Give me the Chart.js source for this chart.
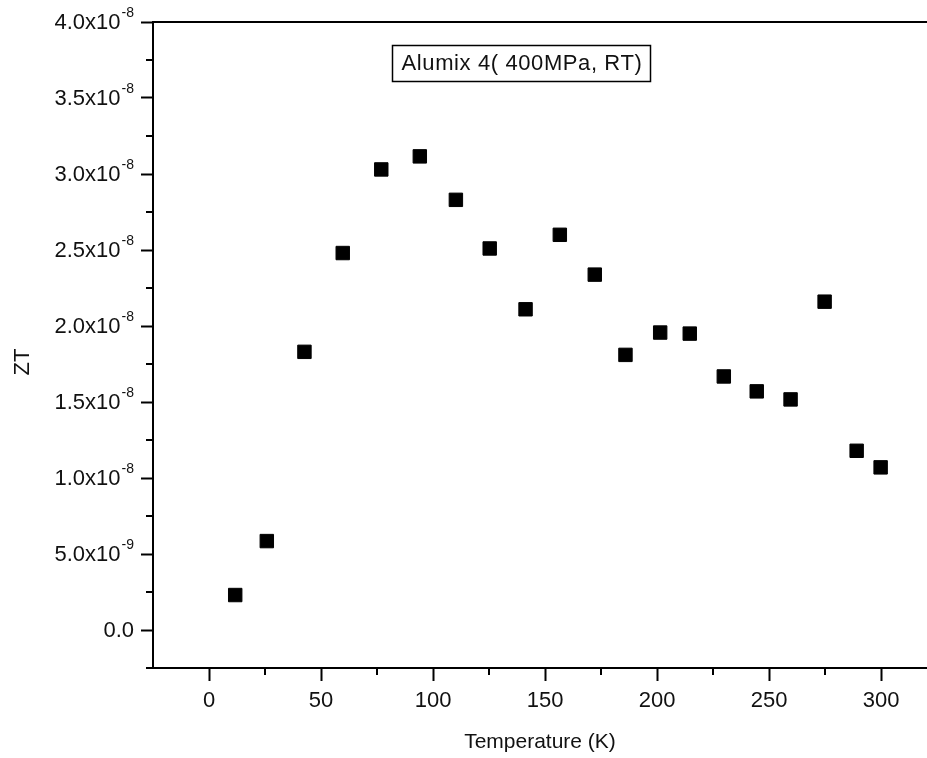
<!DOCTYPE html>
<html>
<head>
<meta charset="utf-8">
<script src="https://cdn.jsdelivr.net/npm/chart.js@4"></script>
<style>
  html, body { margin: 0; padding: 0; background: #fff; overflow: hidden; }
  #wrap { width: 927px; height: 758px; }
</style>
</head>
<body>
<div id="wrap"><canvas id="zt"></canvas></div>
<script>
// Temperature (K) and ZT
const temperature = [11.7, 25.8, 42.6, 59.7, 76.9, 94.1, 110.2, 125.3, 141.3, 156.6,
                     172.2, 185.9, 201.4, 214.6, 229.8, 244.5, 259.6, 274.8, 289.1, 299.8];
const ztValues = [0.23e-8, 0.585e-8, 1.83e-8, 2.48e-8, 3.03e-8, 3.116e-8, 2.83e-8, 2.51e-8, 2.11e-8, 2.60e-8,
                  2.338e-8, 1.81e-8, 1.957e-8, 1.95e-8, 1.668e-8, 1.57e-8, 1.517e-8, 2.16e-8, 1.179e-8, 1.07e-8];

// axis ticks
const xMajorTicks = [0, 50, 100, 150, 200, 250, 300];
const xMinorTicks = [25, 75, 125, 175, 225, 275];
const yMajorTicks = [0, 0.5e-8, 1.0e-8, 1.5e-8, 2.0e-8, 2.5e-8, 3.0e-8, 3.5e-8, 4.0e-8];
const yMinorTicks = [-0.25e-8, 0.25e-8, 0.75e-8, 1.25e-8, 1.75e-8, 2.25e-8, 2.75e-8, 3.25e-8, 3.75e-8];
// y labels as [mantissa, exponent] (exponent drawn as superscript)
const yTickLabels = [["0.0", ""], ["5.0x10", "-9"], ["1.0x10", "-8"], ["1.5x10", "-8"], ["2.0x10", "-8"],
                     ["2.5x10", "-8"], ["3.0x10", "-8"], ["3.5x10", "-8"], ["4.0x10", "-8"]];

const legendText = "Alumix 4( 400MPa, RT)";
const FONT = "Liberation Sans, Arial, sans-serif";
const INK = "#111";

// Extra bits Origin draws that Chart.js doesn't: minor ticks, superscript
// labels, the top frame line, rotated ZT title and the boxed legend.
const originDecor = {
  id: "originDecor",
  afterDraw(chart) {
    const { ctx, chartArea, scales } = chart;
    const x = scales.x, y = scales.y;
    ctx.save();
    ctx.strokeStyle = "#000";
    ctx.lineWidth = 2;

    // top frame
    ctx.beginPath();
    ctx.moveTo(chartArea.left - 1, chartArea.top);
    ctx.lineTo(chartArea.right, chartArea.top);
    ctx.stroke();

    // minor ticks
    ctx.beginPath();
    xMinorTicks.forEach((v) => {
      const px = Math.round(x.getPixelForValue(v));
      ctx.moveTo(px, chartArea.bottom);
      ctx.lineTo(px, chartArea.bottom + 7);
    });
    yMinorTicks.forEach((v) => {
      const py = Math.round(y.getPixelForValue(v));
      ctx.moveTo(chartArea.left, py);
      ctx.lineTo(chartArea.left - 7, py);
    });
    ctx.stroke();

    // y labels with superscript exponent
    ctx.fillStyle = INK;
    ctx.textBaseline = "middle";
    const rightEdge = 134;
    yMajorTicks.forEach((v, i) => {
      const py = y.getPixelForValue(v);
      const [mant, expo] = yTickLabels[i];
      ctx.textAlign = "right";
      let xr = rightEdge;
      if (expo) {
        ctx.font = "14px " + FONT;
        ctx.fillText(expo, xr, py - 9);
        xr -= ctx.measureText(expo).width + 1;
      }
      ctx.font = "22px " + FONT;
      ctx.fillText(mant, xr, py + 1);
    });

    // ZT title
    ctx.save();
    ctx.translate(23, 362);
    ctx.rotate(-Math.PI / 2);
    ctx.textAlign = "center";
    ctx.font = "22px " + FONT;
    ctx.fillText("ZT", 0, 0);
    ctx.restore();

    // boxed legend text
    ctx.lineWidth = 1.5;
    ctx.strokeRect(392.5, 45.5, 258, 36);
    ctx.textAlign = "center";
    ctx.font = "22px " + FONT;
    ctx.letterSpacing = "0.6px";
    ctx.fillText(legendText, 522, 64);
    ctx.restore();
  },
};

new Chart(document.getElementById("zt"), {
  type: "scatter",
  data: {
    datasets: [{
      label: legendText,
      data: temperature.map((t, i) => ({ x: t, y: ztValues[i] })),
      pointStyle: "rect",
      pointRadius: 9.5,
      pointHoverRadius: 9.5,
      backgroundColor: "#000",
      borderColor: "#000",
      borderWidth: 1,
    }],
  },
  options: {
    responsive: true,
    maintainAspectRatio: false,
    animation: false,
    events: [],
    layout: { autoPadding: false, padding: { left: 0, top: 22, right: 0, bottom: 0 } },
    plugins: {
      legend: { display: false },
      tooltip: { enabled: false },
    },
    scales: {
      x: {
        type: "linear",
        min: -25,
        max: 320.5,
        afterBuildTicks: (scale) => { scale.ticks = xMajorTicks.map((v) => ({ value: v })); },
        afterFit: (scale) => {
          scale.height = 90;
          // let the plot run off the right edge like the cropped original
          scale.paddingLeft = 0;
          scale.paddingRight = 0;
        },
        grid: { drawOnChartArea: false, drawTicks: true, tickLength: 13, tickColor: "#000", tickWidth: 2 },
        border: { display: true, color: "#000", width: 2 },
        ticks: { color: INK, font: { family: FONT, size: 22 }, padding: 7, maxRotation: 0 },
        title: {
          display: true,
          text: "Temperature (K)",
          color: INK,
          font: { family: FONT, size: 21 },
          padding: { top: 0, bottom: 3 },
        },
      },
      y: {
        type: "linear",
        min: -0.25e-8,
        max: 4.0e-8,
        afterBuildTicks: (scale) => { scale.ticks = yMajorTicks.map((v) => ({ value: v })); },
        afterFit: (scale) => { scale.width = 153; },
        grid: { drawOnChartArea: false, drawTicks: true, tickLength: 12, tickColor: "#000", tickWidth: 2 },
        border: { display: true, color: "#000", width: 2 },
        ticks: { display: false },
      },
    },
  },
  plugins: [originDecor],
});
</script>
</body>
</html>
